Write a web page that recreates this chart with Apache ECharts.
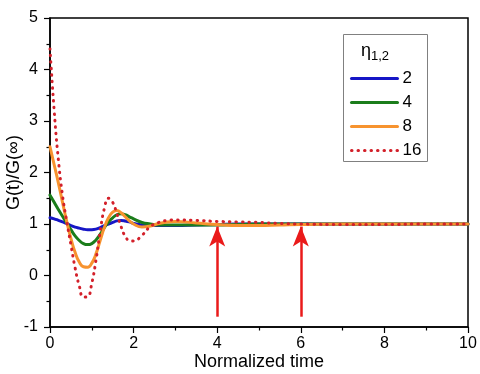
<!DOCTYPE html>
<html>
<head>
<meta charset="utf-8">
<script src="https://cdn.jsdelivr.net/npm/echarts@6/dist/echarts.min.js"></script>
<style>
  html, body { margin: 0; padding: 0; background: #fff; }
  #chart { width: 480px; height: 374px; }
</style>
</head>
<body>
<div id="chart"></div>
<script>
// normalized time samples
const times = [0, 0.1, 0.2, 0.3, 0.4, 0.5, 0.6, 0.7, 0.8, 0.9, 1.0, 1.1, 1.2, 1.3, 1.4, 1.5, 1.6, 1.7, 1.8, 1.9, 2.0, 2.2, 2.4, 2.6, 2.8, 3.0, 3.5, 4, 4.5, 5, 5.5, 6, 7, 8, 9, 10]

// G(t)/G(inf) for each eta_1,2
const eta2 = [1.12, 1.10, 1.07, 1.04, 1.01, 0.97, 0.94, 0.92, 0.90, 0.89, 0.89, 0.90, 0.93, 0.97, 1.00, 1.03, 1.06, 1.07, 1.06, 1.04, 1.01, 0.98, 0.97, 0.97, 0.97, 0.97, 0.98, 0.99, 1.0, 1.0, 1.0, 1.0, 1.0, 1.0, 1.0, 1.0]
const eta4 = [1.56, 1.42, 1.28, 1.15, 1.02, 0.89, 0.77, 0.68, 0.62, 0.60, 0.62, 0.69, 0.80, 0.93, 1.04, 1.12, 1.18, 1.20, 1.18, 1.14, 1.10, 1.03, 1.00, 0.98, 0.98, 0.98, 0.98, 0.98, 0.99, 1.0, 1.0, 1.0, 1.0, 1.0, 1.0, 1.0]
const eta8 = [2.5, 2.15, 1.80, 1.42, 1.05, 0.72, 0.45, 0.26, 0.17, 0.16, 0.24, 0.42, 0.68, 0.93, 1.12, 1.23, 1.26, 1.22, 1.14, 1.06, 1.00, 0.94, 0.96, 1.01, 1.04, 1.05, 1.02, 0.99, 0.97, 0.97, 0.98, 0.99, 1.0, 1.0, 1.0, 1.0]
const eta16 = [4.4, 3.2, 2.25, 1.55, 1.05, 0.6, 0.15, -0.2, -0.42, -0.41, -0.15, 0.3, 0.85, 1.3, 1.5, 1.42, 1.2, 0.95, 0.76, 0.68, 0.67, 0.78, 0.95, 1.03, 1.07, 1.08, 1.07, 1.05, 1.04, 1.03, 1.01, 1.0, 0.99, 0.99, 1.0, 1.0]

const legendNames = ['2', '4', '8', '16']

// red arrows
const arrowTimes = [4, 6]
const arrowFrom = -0.8
const arrowTo = 0.95

const font = "'Liberation Sans', Arial, sans-serif"

const pairs = (ys) => times.map((t, i) => [t, ys[i]])

const makeLine = (name, ys, color, type) => ({
  name: name,
  type: 'line',
  data: pairs(ys),
  smooth: true,
  symbol: 'none',
  lineStyle: { color: color, width: 3, type: type || 'solid', cap: 'round' },
  itemStyle: { color: color },
  z: 3
})

const chart = echarts.init(document.getElementById('chart'))

const option = {
  animation: false,
  textStyle: { fontFamily: font },
  grid: {
    left: 50, right: 12, top: 18, bottom: 47,
    containLabel: false,
    outerBoundsMode: 'none',
    show: true, borderColor: '#000', borderWidth: 1.5
  },
  xAxis: {
    type: 'value',
    min: 0, max: 10, interval: 2,
    name: 'Normalized time',
    nameLocation: 'middle',
    nameGap: 26,
    nameMoveOverlap: false,
    nameTextStyle: { fontSize: 18, color: '#000', fontFamily: font },
    axisLine: { show: true, onZero: false, lineStyle: { color: '#000', width: 1.5 } },
    axisTick: { show: true, inside: false, length: 6, lineStyle: { color: '#000', width: 1.2 } },
    minorTick: { show: true, splitNumber: 2, length: 3.5, lineStyle: { color: '#000', width: 1.2 } },
    axisLabel: { fontSize: 16, color: '#000', margin: 9, fontFamily: font },
    splitLine: { show: false }
  },
  yAxis: {
    type: 'value',
    min: -1, max: 5, interval: 1,
    name: 'G(t)/G(∞)',
    nameLocation: 'middle',
    nameGap: 27,
    nameMoveOverlap: false,
    nameTextStyle: { fontSize: 18, color: '#000', fontFamily: font },
    axisLine: { show: true, onZero: false, lineStyle: { color: '#000', width: 1.5 } },
    axisTick: { show: true, inside: false, length: 6, lineStyle: { color: '#000', width: 1.2 } },
    minorTick: { show: true, splitNumber: 2, length: 3.5, lineStyle: { color: '#000', width: 1.2 } },
    axisLabel: { fontSize: 16, color: '#000', margin: 12, fontFamily: font },
    splitLine: { show: false }
  },
  legend: {
    data: legendNames,
    orient: 'vertical',
    left: 350,
    top: 70,
    itemWidth: 46,
    itemHeight: 14,
    itemGap: 7,
    padding: 0,
    itemStyle: { opacity: 0 },
    lineStyle: { width: 3 },
    textStyle: { fontSize: 17, color: '#000', fontFamily: font },
    z: 10
  },
  graphic: [
    {
      type: 'rect',
      left: 343, top: 34,
      shape: { width: 84, height: 127 },
      style: { fill: '#fff', stroke: '#808080', lineWidth: 1 },
      z: 1
    },
    {
      type: 'text',
      left: 361, top: 42,
      style: {
        text: '{a|η}{b|1,2}',
        rich: {
          a: { fontSize: 18, fontFamily: font, fill: '#000' },
          b: { fontSize: 13, fontFamily: font, fill: '#000', padding: [10, 0, 0, 0] }
        }
      },
      z: 2
    }
  ],
  series: [
    makeLine(legendNames[0], eta2, '#1616c6'),
    makeLine(legendNames[1], eta4, '#1b7d1b'),
    makeLine(legendNames[2], eta8, '#f7932f'),
    makeLine(legendNames[3], eta16, '#d3202a', [0.5, 6]),
    {
      name: 'arrows',
      type: 'line',
      data: [],
      markLine: {
        silent: true,
        symbol: ['none', 'arrow'],
        symbolSize: [12, 20],
        label: { show: false },
        lineStyle: { color: '#ea1a1a', width: 2.5, type: 'solid' },
        itemStyle: { color: '#ea1a1a' },
        data: arrowTimes.map(t => [{ coord: [t, arrowFrom] }, { coord: [t, arrowTo] }])
      },
      z: 4
    }
  ]
}

chart.setOption(option)
</script>
</body>
</html>
